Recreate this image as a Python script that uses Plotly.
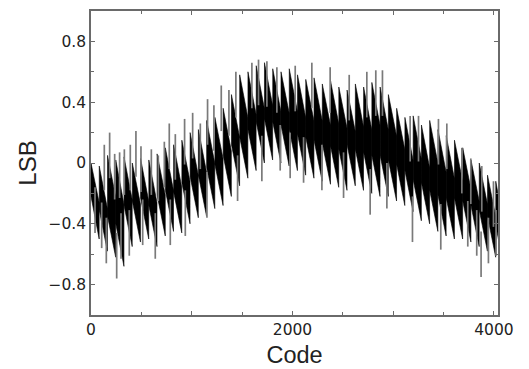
import plotly.graph_objects as go

# ---- data (INL vs. code) ----
tooth_start = [0, 82, 164, 246, 328, 410, 492, 574, 656, 738, 820, 902, 984, 1066, 1148, 1230,
               1312, 1394, 1476, 1558, 1640, 1722, 1804, 1886, 1968, 2050, 2132, 2214, 2296, 2378,
               2460, 2542, 2624, 2706, 2788, 2870, 2952, 3034, 3116, 3198, 3280, 3362, 3444, 3526,
               3608, 3690, 3772, 3854, 3936, 4018]
tooth_end = [81, 163, 245, 327, 409, 491, 573, 655, 737, 819, 901, 983, 1065, 1147, 1229, 1311,
             1393, 1475, 1557, 1639, 1721, 1803, 1885, 1967, 2049, 2131, 2213, 2295, 2377, 2459,
             2541, 2623, 2705, 2787, 2869, 2951, 3033, 3115, 3197, 3279, 3361, 3443, 3525, 3607,
             3689, 3771, 3853, 3935, 4017, 4095]
top_start = [0.00, -0.02, 0.05, 0.02, 0.04, 0.00, 0.03, 0.02, 0.06, 0.10, 0.12, 0.15, 0.20, 0.22,
             0.28, 0.30, 0.36, 0.45, 0.58, 0.60, 0.64, 0.66, 0.62, 0.60, 0.62, 0.58, 0.55, 0.56,
             0.52, 0.54, 0.50, 0.48, 0.52, 0.50, 0.53, 0.50, 0.45, 0.36, 0.30, 0.31, 0.25, 0.28,
             0.22, 0.18, 0.15, 0.10, 0.02, 0.00, -0.08, -0.12]
top_end = [-0.26, -0.30, -0.22, -0.27, -0.24, -0.27, -0.25, -0.26, -0.21, -0.18, -0.16, -0.12,
           -0.08, -0.06, 0.00, 0.03, 0.08, 0.17, 0.30, 0.32, 0.36, 0.38, 0.34, 0.33, 0.34, 0.30,
           0.28, 0.28, 0.25, 0.26, 0.23, 0.21, 0.24, 0.22, 0.25, 0.22, 0.18, 0.09, 0.02, 0.03,
           -0.03, 0.00, -0.06, -0.10, -0.12, -0.17, -0.25, -0.27, -0.35, -0.40]
bot_start = [-0.22, -0.31, -0.35, -0.40, -0.28, -0.25, -0.23, -0.28, -0.21, -0.18, -0.19, -0.13,
             -0.09, -0.08, -0.03, -0.01, 0.05, 0.12, 0.17, 0.22, 0.27, 0.29, 0.27, 0.25, 0.22,
             0.19, 0.17, 0.15, 0.13, 0.11, 0.09, 0.12, 0.09, 0.07, 0.05, 0.05, 0.02, -0.01,
             -0.05, -0.11, -0.13, -0.18, -0.21, -0.23, -0.23, -0.25, -0.28, -0.31, -0.35, -0.41]
bot_end = [-0.50, -0.58, -0.62, -0.68, -0.55, -0.52, -0.50, -0.55, -0.48, -0.45, -0.46, -0.40,
           -0.36, -0.35, -0.30, -0.28, -0.22, -0.15, -0.10, -0.05, 0.00, 0.02, 0.00, -0.02, -0.05,
           -0.08, -0.10, -0.12, -0.14, -0.16, -0.18, -0.15, -0.18, -0.20, -0.22, -0.22, -0.25,
           -0.28, -0.32, -0.38, -0.40, -0.45, -0.48, -0.50, -0.50, -0.52, -0.55, -0.58, -0.62,
           -0.68]

up_code = [132, 185, 235, 284, 331, 390, 446, 496, 599, 668, 728, 777, 837, 929, 1009, 1085,
           1157, 1220, 1293, 1369, 1438, 1597, 1663, 1746, 1845, 2027, 2192, 2374, 2563, 2738,
           2827, 2893, 3168, 3251, 3449, 3532, 3681, 3770, 3879, 3995]
up_tip = [0.12, 0.20, 0.06, 0.07, 0.09, 0.12, 0.21, 0.11, 0.09, 0.05, 0.14, 0.26, 0.19, 0.29,
          0.33, 0.26, 0.42, 0.38, 0.51, 0.48, 0.60, 0.66, 0.68, 0.67, 0.63, 0.64, 0.66, 0.63,
          0.58, 0.60, 0.61, 0.61, 0.31, 0.31, 0.29, 0.26, 0.10, 0.03, -0.02, -0.12]
up_base = [-0.18, -0.10, -0.24, -0.23, -0.21, -0.18, -0.09, -0.19, -0.21, -0.25, -0.16, -0.04,
           -0.11, -0.01, 0.03, -0.04, 0.12, 0.08, 0.21, 0.18, 0.30, 0.36, 0.38, 0.37, 0.33, 0.34,
           0.36, 0.33, 0.28, 0.30, 0.31, 0.31, 0.01, 0.01, -0.01, -0.04, -0.20, -0.27, -0.32,
           -0.42]

dn_code = [40, 106, 152, 255, 298, 380, 513, 638, 787, 936, 1151, 1455, 1696, 1878, 1977, 2110,
           2292, 2507, 2771, 2937, 3191, 3472, 3740, 3829, 3872, 3945, 4021]
dn_tip = [-0.46, -0.56, -0.66, -0.76, -0.63, -0.61, -0.54, -0.63, -0.54, -0.48, -0.36, -0.25,
          -0.12, -0.05, -0.10, -0.13, -0.18, -0.23, -0.34, -0.30, -0.52, -0.57, -0.55, -0.61,
          -0.75, -0.66, -0.61]
dn_base = [-0.16, -0.26, -0.36, -0.46, -0.33, -0.31, -0.24, -0.33, -0.24, -0.18, -0.06, 0.05,
           0.18, 0.25, 0.20, 0.17, 0.12, 0.07, -0.04, 0.00, -0.22, -0.27, -0.25, -0.31, -0.45,
           -0.36, -0.31]

# ---- build traces ----
bx, by = [], []
for s, e, ts, te, bs, be in zip(tooth_start, tooth_end, top_start, top_end, bot_start, bot_end):
    bx += [s, e, e, s, s, None]
    by += [ts, te, be, bs, ts, None]

sx, sy = [], []
for c, b, t in zip(up_code, up_base, up_tip):
    sx += [c, c, None]
    sy += [b, t, None]
for c, b, t in zip(dn_code, dn_base, dn_tip):
    sx += [c, c, None]
    sy += [b, t, None]

fig = go.Figure()
fig.add_trace(go.Scatter(x=bx, y=by, mode="lines", fill="toself", fillcolor="black",
                         line=dict(color="black", width=0.6), hoverinfo="skip"))
fig.add_trace(go.Scatter(x=sx, y=sy, mode="lines",
                         line=dict(color="#7a7a7a", width=1.7), hoverinfo="skip"))

tfont = "DejaVu Sans, Arial, sans-serif"
font = "Arial, Liberation Sans, Helvetica, sans-serif"
axis_common = dict(showline=True, linecolor="#6a6a6a", linewidth=1.5, mirror="ticks",
                   showgrid=False, zeroline=False, ticks="inside", ticklen=4,
                   tickcolor="#6a6a6a", tickwidth=1.2, automargin=False,
                   tickfont=dict(family=tfont, size=15.5, color="#222222"))

fig.update_layout(
    width=521, height=361,
    margin=dict(l=83, r=31, t=3, b=54),
    paper_bgcolor="white", plot_bgcolor="white",
    showlegend=False,
    xaxis=dict(range=[0, 4040], tickvals=[0, 1000, 2000, 3000, 4000],
               ticktext=["0", "", "2000", "", "4000"],
               minor=dict(dtick=500, tick0=0, ticks="inside", ticklen=3, tickcolor="#6a6a6a"),
               title=dict(text="Code", font=dict(family=font, size=23.5, color="#222222"),
                          standoff=8),
               **axis_common),
    yaxis=dict(range=[-1, 1], tickvals=[-0.8, -0.4, 0, 0.4, 0.8],
               ticktext=["\u22120.8", "\u22120.4", "0", "0.4", "0.8"],
               minor=dict(dtick=0.2, tick0=0, ticks="inside", ticklen=3, tickcolor="#6a6a6a"),
               title=dict(text="LSB", font=dict(family=font, size=24, color="#222222"),
                          standoff=5),
               **axis_common),
)

fig.write_html("out.html")
